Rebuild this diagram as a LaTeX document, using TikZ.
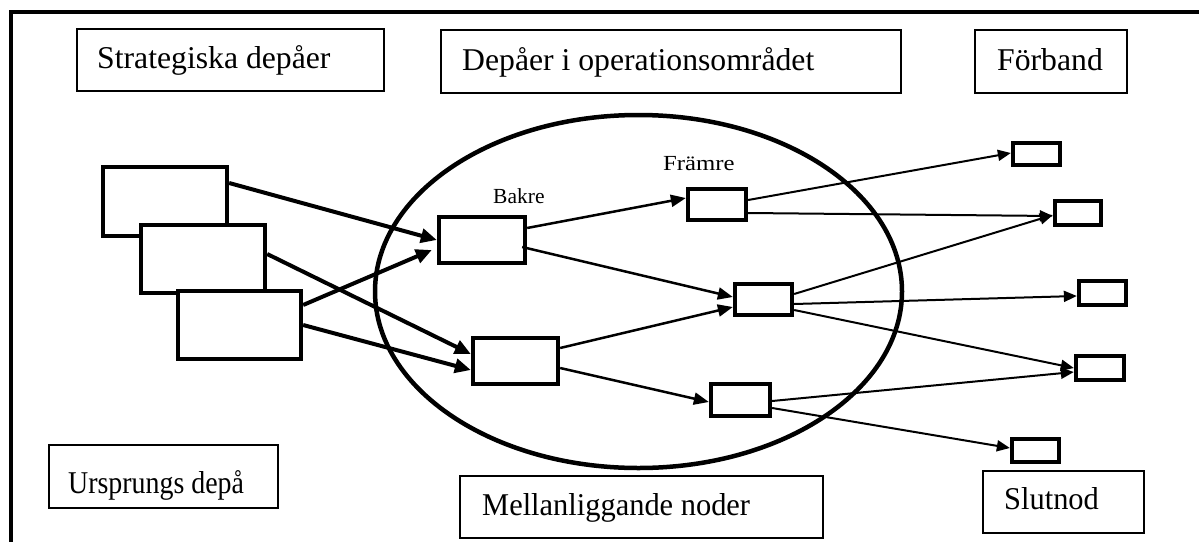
\documentclass[tikz,border=0pt]{standalone}
\usepackage{fontspec}
\setmainfont{Liberation Serif}
\usetikzlibrary{arrows.meta,fit}
\begin{document}
\begin{tikzpicture}[x=1pt,y=-1pt,
  lbox/.style={draw, line width=1.3pt, inner sep=0pt},
  tbox/.style={draw, line width=4.3pt, inner sep=0pt, fill=white},
  ltext/.style={anchor=base west, inner sep=0pt, font=\fontsize{31.7}{36}\selectfont},
  stext/.style={anchor=base west, inner sep=0pt, font=\fontsize{21.5}{24}\selectfont},
  thickarr/.style={line width=4pt, -{Triangle[length=16pt,width=14pt]}},
  midarr/.style={line width=2.5pt, -{Triangle[length=15pt,width=12pt]}},
  thinarr/.style={line width=2pt, -{Triangle[length=13pt,width=11pt]}},
]
\useasboundingbox (0,0) rectangle (1199,541);
\clip (0,0) rectangle (1199,541);
\fill[white] (0,0) rectangle (1199,541);
% outer frame
\draw[line width=4.8pt] (11,12) rectangle (1260,600);

% label boxes
\node[lbox, fit={(77,29) (384,91)}] (sd) {};
\node[lbox, fit={(441,30) (901,93)}] (dop) {};
\node[lbox, fit={(975,30) (1127,93)}] (forb) {};
\node[lbox, fit={(49,445) (278,508)}] (ursp) {};
\node[lbox, fit={(460,476) (823,538)}] (mell) {};
\node[lbox, fit={(983,471) (1144,533)}] (slut) {};

\node[ltext] (tsd) at (97,68) {Strategiska depåer};
\node[ltext] (tdop) at (462,70) {Depåer i operationsområdet};
\node[ltext] (tforb) at (997,70) {Förband};
\node[ltext] (tursp) at (68,493) {\scalebox{0.88}[1]{Ursprungs depå}};
\node[ltext] (tmell) at (482,515) {\scalebox{0.96}[1]{Mellanliggande noder}};
\node[ltext] (tslut) at (1004,509) {\scalebox{0.96}[1]{Slutnod}};

% ellipse
\draw[line width=4.5pt] (638.5,291.5) ellipse [x radius=263.5, y radius=176.5];

% thick boxes
\node[tbox, fit={(103,167) (227,236)}] (u1) {};
\node[tbox, fit={(141,225) (265,293)}] (u2) {};
\node[tbox, fit={(178,291) (301,359)}] (u3) {};
\node[tbox, fit={(439,217) (525,263)}] (bakre) {};
\node[tbox, fit={(473,338) (558,384)}] (mlow) {};
\node[tbox, fit={(688,189) (746,220)}] (fram) {};
\node[tbox, fit={(735,284) (792,315)}] (mmid) {};
\node[tbox, fit={(711,384) (770,416)}] (mlr) {};
\node[tbox, fit={(1013,143) (1060,165)}] (e1) {};
\node[tbox, fit={(1055,201) (1101,225)}] (e2) {};
\node[tbox, fit={(1079,281) (1126,305)}] (e3) {};
\node[tbox, fit={(1076,356) (1124,380)}] (e4) {};
\node[tbox, fit={(1012,439) (1059,462)}] (e5) {};

\node[stext] (tbak) at (493,203) {Bakre};
\node[stext] (tfram) at (663,170) {\scalebox{1.15}[1]{Främre}};

% arrows
\draw[thickarr] ([yshift=18.5pt]u1.east) -- (bakre.west);
\draw[thickarr] ([yshift=5pt]u2.east) -- ([yshift=7pt]mlow.west);
\draw[thickarr] ([yshift=20pt]u3.east) -- ([xshift=-5pt,yshift=-10pt]bakre.west);
\draw[thickarr] (u3.east) -- ([yshift=-9pt]mlow.west);
\draw[midarr] ([yshift=12pt]bakre.east) -- ([yshift=6.5pt]fram.west);
\draw[midarr] ([xshift=-5pt,yshift=-7pt]bakre.east) -- ([yshift=2.5pt]mmid.west);
\draw[midarr] ([yshift=13pt]mlow.east) -- ([yshift=-7.5pt]mmid.west);
\draw[midarr] ([yshift=-7pt]mlow.east) -- ([yshift=-2pt]mlr.west);
\draw[thinarr] ([yshift=4.5pt]fram.east) -- ([yshift=1pt]e1.west);
\draw[thinarr] ([yshift=-8.5pt]fram.east) -- ([yshift=-3pt]e2.west);
\draw[thinarr] ([yshift=5.5pt]mmid.east) -- ([yshift=-2pt]e2.west);
\draw[thinarr] ([yshift=-4.5pt]mmid.east) -- ([yshift=-3pt]e3.west);
\draw[thinarr] ([yshift=-10.5pt]mmid.east) -- (e4.west);
\draw[thinarr] ([yshift=-1pt]mlr.east) -- ([yshift=-4pt]e4.west);
\draw[thinarr] ([yshift=-8pt]mlr.east) -- ([yshift=2.5pt]e5.west);
\end{tikzpicture}
\end{document}
